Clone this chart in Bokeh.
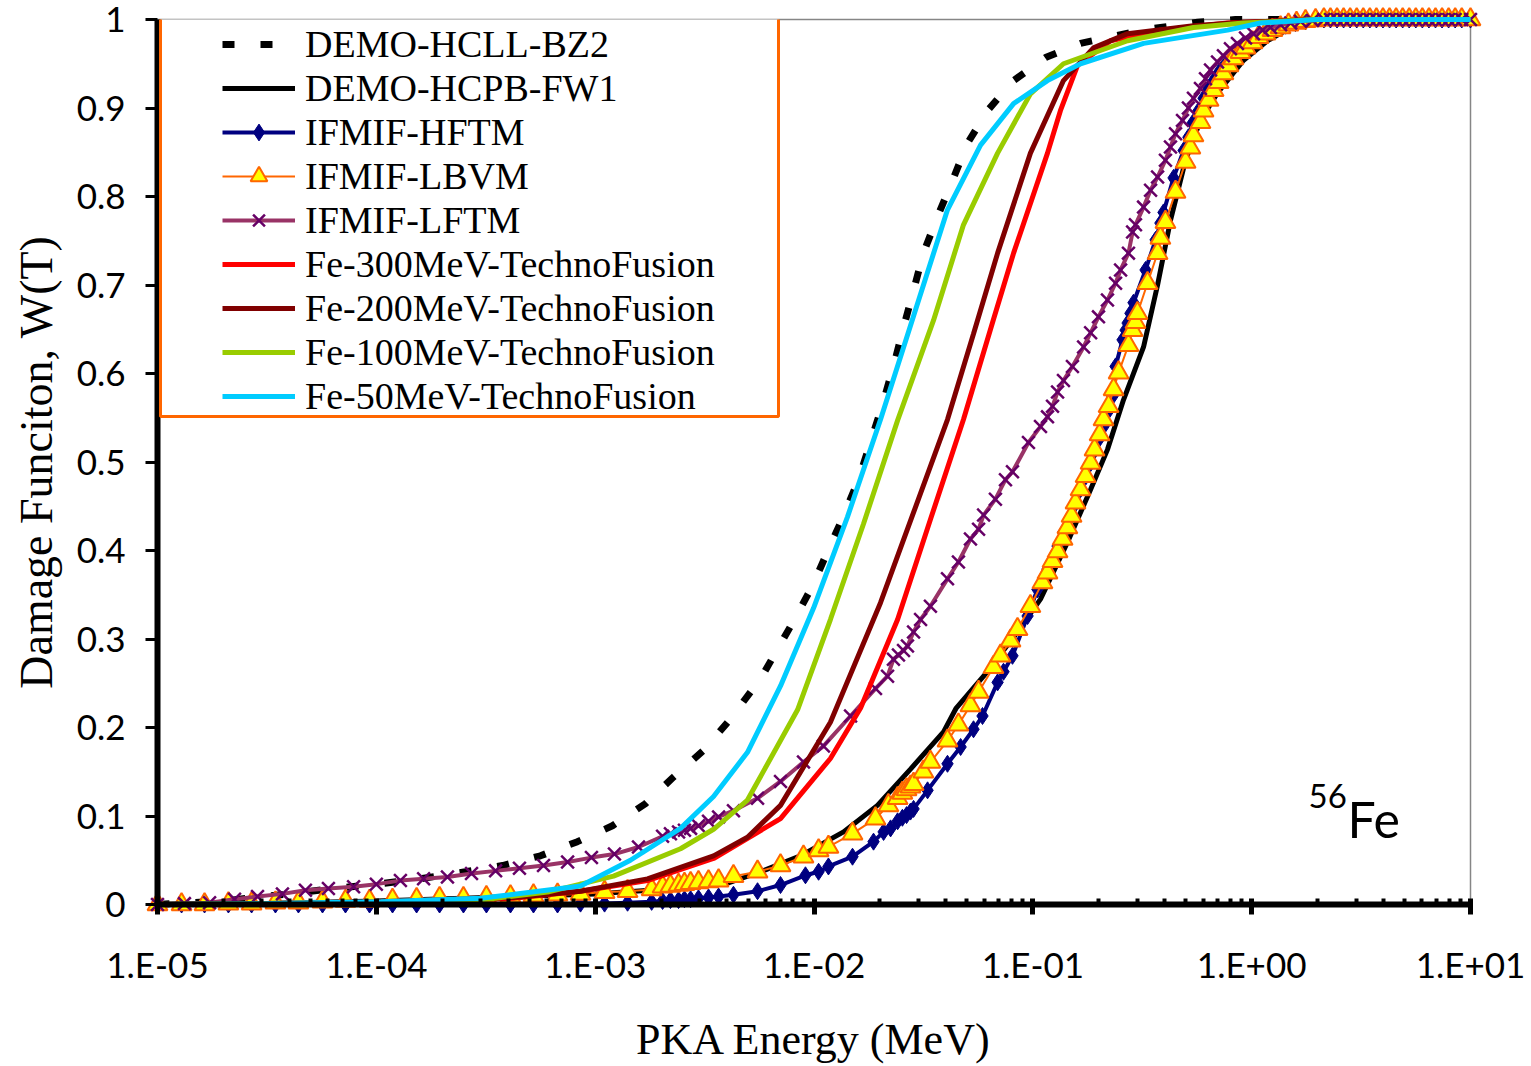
import numpy as np
from bokeh.plotting import figure
from bokeh.models import (Range1d, FixedTicker, CustomJSTickFormatter, Legend,
                          LegendItem, BoxAnnotation, Label, ColumnDataSource)
from bokeh.embed import file_html
from bokeh.resources import INLINE

# ---------------- data (PKA energy given as log10(E / MeV), W = damage function) -------------
series_names = ["DEMO-HCLL-BZ2", "DEMO-HCPB-FW1", "IFMIF-HFTM", "IFMIF-LBVM", "IFMIF-LFTM",
                "Fe-300MeV-TechnoFusion", "Fe-200MeV-TechnoFusion",
                "Fe-100MeV-TechnoFusion", "Fe-50MeV-TechnoFusion"]

hcll_logE = [-5.0, -4.7, -4.4, -4.2, -4.0, -3.8, -3.593, -3.423, -3.250, -3.081, -2.921, -2.770,
             -2.642, -2.505, -2.391, -2.244, -2.094, -2.007, -1.934, -1.865, -1.797, -1.742,
             -1.687, -1.637, -1.591, -1.545, -1.500, -1.436, -1.367, -1.299, -1.207, -1.088,
             -0.942, -0.782, -0.5, -0.247, -0.074, 0.3, 1.0]
hcll_W = [0.0, 0.004, 0.012, 0.018, 0.023, 0.029, 0.037, 0.044, 0.055, 0.071, 0.089, 0.114,
          0.144, 0.174, 0.207, 0.255, 0.320, 0.360, 0.401, 0.439, 0.480, 0.522,
          0.565, 0.608, 0.652, 0.694, 0.736, 0.777, 0.818, 0.860, 0.897, 0.931,
          0.957, 0.973, 0.988, 0.997, 1.0, 1.0, 1.0]

hcpb_logE = [-5.0, -4.5, -4.0, -3.5, -3.0, -2.7, -2.395, -2.244, -2.062, -1.865, -1.710, -1.559,
             -1.408, -1.35, -1.225, -1.070, -0.965, -0.842, -0.736, -0.659, -0.586, -0.494,
             -0.430, -0.371, -0.302, -0.234, -0.156, -0.037, 0.072, 0.223, 0.45, 1.0]
hcpb_W = [0.0, 0.001, 0.004, 0.008, 0.012, 0.017, 0.024, 0.037, 0.055, 0.082, 0.112, 0.153,
          0.195, 0.222, 0.258, 0.308, 0.345, 0.409, 0.469, 0.514, 0.570, 0.630,
          0.700, 0.773, 0.841, 0.886, 0.917, 0.954, 0.976, 0.997, 1.0, 1.0]

hftm_logE = [-5.000, -4.890, -4.785, -4.676, -4.570, -4.461, -4.356, -4.246, -4.141, -4.031,
             -3.926, -3.816, -3.711, -3.602, -3.497, -3.387, -3.282, -3.172, -3.067, -2.957,
             -2.852, -2.742, -2.692, -2.656, -2.619, -2.592, -2.564, -2.528, -2.482, -2.436,
             -2.368, -2.258, -2.153, -2.039, -1.979, -1.934, -1.824, -1.728, -1.682, -1.650,
             -1.618, -1.596, -1.577, -1.559, -1.545, -1.481, -1.390, -1.330, -1.271, -1.230,
             -1.161, -1.134, -1.093, -1.024, -0.979, -0.956, -0.933, -0.910, -0.887, -0.860,
             -0.837, -0.814, -0.791, -0.768, -0.746, -0.723, -0.700, -0.677, -0.659, -0.636,
             -0.622, -0.590, -0.576, -0.567, -0.554, -0.540, -0.485, -0.439, -0.417, -0.403,
             -0.357, -0.311, -0.289, -0.270, -0.243, -0.220, -0.197, -0.174, -0.151, -0.120,
             -0.088, -0.060, -0.028, 0.004, 0.040, 0.077, 0.114, 0.155, 0.200, 0.246]
hftm_W = [0.000, 0.000, 0.000, 0.000, 0.000, 0.000, 0.000, 0.000, 0.000, 0.000,
          0.000, 0.000, 0.000, 0.000, 0.000, 0.000, 0.000, 0.000, 0.001, 0.001,
          0.002, 0.003, 0.004, 0.005, 0.005, 0.006, 0.006, 0.007, 0.008, 0.009,
          0.011, 0.015, 0.022, 0.033, 0.037, 0.043, 0.054, 0.071, 0.082, 0.086,
          0.094, 0.098, 0.101, 0.105, 0.108, 0.129, 0.159, 0.178, 0.198, 0.213,
          0.251, 0.263, 0.281, 0.326, 0.356, 0.365, 0.379, 0.390, 0.405, 0.421,
          0.435, 0.450, 0.466, 0.480, 0.495, 0.511, 0.525, 0.540, 0.556, 0.574,
          0.608, 0.638, 0.649, 0.657, 0.668, 0.680, 0.717, 0.751, 0.770, 0.782,
          0.821, 0.852, 0.867, 0.883, 0.897, 0.911, 0.922, 0.931, 0.940, 0.950,
          0.957, 0.965, 0.971, 0.976, 0.982, 0.986, 0.990, 0.993, 0.996, 0.998]

lbvm_logE = [-5.000, -4.890, -4.785, -4.676, -4.570, -4.461, -4.356, -4.246, -4.141, -4.031,
             -3.926, -3.816, -3.711, -3.602, -3.497, -3.387, -3.282, -3.172, -3.067, -2.957,
             -2.852, -2.742, -2.692, -2.656, -2.619, -2.592, -2.564, -2.528, -2.482, -2.436,
             -2.368, -2.258, -2.153, -2.048, -1.979, -1.934, -1.824, -1.719, -1.660, -1.618,
             -1.596, -1.577, -1.559, -1.545, -1.500, -1.468, -1.390, -1.340, -1.285, -1.248,
             -1.180, -1.148, -1.102, -1.070, -1.011, -0.956, -0.933, -0.910, -0.887, -0.864,
             -0.842, -0.823, -0.805, -0.782, -0.759, -0.736, -0.718, -0.695, -0.677, -0.654,
             -0.631, -0.608, -0.563, -0.544, -0.531, -0.522, -0.476, -0.430, -0.417, -0.394,
             -0.348, -0.302, -0.280, -0.266, -0.234, -0.220, -0.197, -0.174, -0.151, -0.129,
             -0.106, -0.083, -0.051, -0.028, 0.004, 0.031, 0.063, 0.095, 0.132, 0.168,
             0.205, 0.246, 0.292]
lbvm_W = [0.000, 0.000, 0.000, 0.001, 0.001, 0.002, 0.002, 0.003, 0.004, 0.004,
          0.005, 0.006, 0.007, 0.007, 0.008, 0.009, 0.010, 0.011, 0.012, 0.014,
          0.015, 0.017, 0.020, 0.021, 0.022, 0.023, 0.024, 0.025, 0.026, 0.027,
          0.032, 0.037, 0.044, 0.054, 0.061, 0.065, 0.080, 0.097, 0.112, 0.120,
          0.126, 0.130, 0.133, 0.136, 0.150, 0.161, 0.185, 0.203, 0.225, 0.240,
          0.268, 0.281, 0.298, 0.311, 0.337, 0.364, 0.375, 0.388, 0.399, 0.413,
          0.426, 0.439, 0.454, 0.469, 0.484, 0.499, 0.514, 0.531, 0.548, 0.563,
          0.582, 0.601, 0.632, 0.649, 0.658, 0.668, 0.702, 0.736, 0.753, 0.771,
          0.805, 0.839, 0.855, 0.869, 0.884, 0.897, 0.909, 0.920, 0.929, 0.939,
          0.948, 0.956, 0.963, 0.968, 0.974, 0.980, 0.984, 0.988, 0.991, 0.994,
          0.996, 0.998, 0.999]

lftm_logE = [-5.000, -4.877, -4.762, -4.648, -4.543, -4.429, -4.324, -4.219, -4.104, -4.000,
             -3.890, -3.784, -3.675, -3.565, -3.455, -3.346, -3.236, -3.126, -3.017, -2.912,
             -2.802, -2.692, -2.656, -2.619, -2.592, -2.564, -2.528, -2.482, -2.436, -2.368,
             -2.258, -2.153, -2.048, -1.957, -1.833, -1.719, -1.664, -1.637, -1.614, -1.591,
             -1.573, -1.545, -1.513, -1.468, -1.390, -1.340, -1.285, -1.248, -1.225, -1.171,
             -1.125, -1.093, -1.020, -0.965, -0.933, -0.910, -0.887, -0.860, -0.819, -0.768,
             -0.736, -0.700, -0.659, -0.622, -0.599, -0.563, -0.544, -0.531, -0.494, -0.462,
             -0.430, -0.394, -0.371, -0.348, -0.316, -0.289, -0.266, -0.234, -0.211, -0.188,
             -0.156, -0.129, -0.097, -0.065, -0.028, 0.008, 0.050, 0.086, 0.132, 0.178,
             0.223, 0.278]
lftm_W = [0.000, 0.001, 0.002, 0.006, 0.009, 0.012, 0.016, 0.018, 0.020, 0.023,
          0.027, 0.029, 0.031, 0.035, 0.038, 0.041, 0.044, 0.048, 0.053, 0.057,
          0.065, 0.077, 0.080, 0.082, 0.084, 0.086, 0.089, 0.094, 0.099, 0.106,
          0.120, 0.139, 0.161, 0.179, 0.213, 0.244, 0.258, 0.277, 0.282, 0.287,
          0.292, 0.308, 0.322, 0.337, 0.368, 0.387, 0.413, 0.424, 0.440, 0.458,
          0.480, 0.489, 0.522, 0.540, 0.551, 0.563, 0.579, 0.592, 0.608, 0.630,
          0.646, 0.664, 0.683, 0.702, 0.717, 0.736, 0.760, 0.768, 0.788, 0.807,
          0.822, 0.841, 0.856, 0.871, 0.886, 0.900, 0.911, 0.922, 0.933, 0.943,
          0.952, 0.959, 0.967, 0.973, 0.979, 0.984, 0.988, 0.991, 0.994, 0.996,
          0.998, 0.999]

# saturated high-energy part shared by the IFMIF spectra
ifmif_tail_logE = [0.33, 0.36, 0.39, 0.42, 0.45, 0.48, 0.51, 0.54, 0.57, 0.60, 0.63, 0.66,
                   0.69, 0.72, 0.75, 0.78, 0.81, 0.84, 0.87, 0.90, 0.93, 0.96, 1.0]
ifmif_tail_W = [1.0, 1.0, 1.0, 1.0, 1.0, 1.0, 1.0, 1.0, 1.0, 1.0, 1.0, 1.0,
                1.0, 1.0, 1.0, 1.0, 1.0, 1.0, 1.0, 1.0, 1.0, 1.0, 1.0]

fe300_logE = [-5.0, -4.5, -4.0, -3.373, -3.067, -2.761, -2.459, -2.153, -1.925, -1.787, -1.618,
              -1.468, -1.317, -1.180, -1.088, -0.933, -0.874, -0.796, -0.645, -0.417, -0.110,
              0.3, 1.0]
fe300_W = [0.0, 0.001, 0.002, 0.007, 0.015, 0.027, 0.052, 0.097, 0.165, 0.222, 0.322,
           0.435, 0.548, 0.661, 0.736, 0.849, 0.897, 0.948, 0.976, 0.988, 0.996,
           1.0, 1.0]

fe200_logE = [-5.0, -4.5, -4.0, -3.373, -3.067, -2.761, -2.459, -2.304, -2.153, -1.925, -1.696,
              -1.545, -1.390, -1.271, -1.161, -1.011, -0.860, -0.723, -0.567, -0.266, -0.037,
              0.3, 1.0]
fe200_W = [0.0, 0.001, 0.003, 0.008, 0.015, 0.029, 0.055, 0.076, 0.112, 0.206, 0.341,
           0.443, 0.548, 0.645, 0.736, 0.849, 0.931, 0.968, 0.984, 0.993, 0.997,
           1.0, 1.0]

fe100_logE = [-5.0, -4.5, -4.0, -3.524, -3.218, -2.916, -2.610, -2.459, -2.304, -2.075, -1.925,
              -1.774, -1.618, -1.454, -1.317, -1.161, -1.011, -0.860, -0.567, -0.266, -0.037,
              0.3, 1.0]
fe100_W = [0.0, 0.001, 0.002, 0.005, 0.014, 0.032, 0.063, 0.085, 0.118, 0.220, 0.322,
           0.430, 0.547, 0.660, 0.768, 0.849, 0.916, 0.950, 0.976, 0.991, 0.996,
           1.0, 1.0]

fe50_logE = [-5.0, -4.5, -3.98, -3.524, -3.067, -2.839, -2.610, -2.459, -2.304, -2.153, -2.002,
             -1.847, -1.696, -1.545, -1.390, -1.239, -1.088, -0.933, -0.782, -0.494, -0.110,
             0.040, 0.3, 1.0]
fe50_W = [0.0, 0.001, 0.003, 0.007, 0.021, 0.050, 0.086, 0.122, 0.172, 0.247, 0.335,
          0.438, 0.548, 0.665, 0.785, 0.858, 0.905, 0.931, 0.950, 0.973, 0.988,
          0.996, 1.0, 1.0]

x_tick_values = [1e-5, 1e-4, 1e-3, 1e-2, 1e-1, 1e0, 1e1]
x_tick_labels = ["1.E-05", "1.E-04", "1.E-03", "1.E-02", "1.E-01", "1.E+00", "1.E+01"]
y_tick_values = [0.0, 0.1, 0.2, 0.3, 0.4, 0.5, 0.6, 0.7, 0.8, 0.9, 1.0]
y_tick_labels = ["0", "0.1", "0.2", "0.3", "0.4", "0.5", "0.6", "0.7", "0.8", "0.9", "1"]


def src(logE, W):
    return ColumnDataSource(dict(E=np.power(10.0, np.asarray(logE, dtype=float)),
                                 W=np.asarray(W, dtype=float)))


# ---------------- figure -------------
p = figure(width=1531, height=1066, x_axis_type="log",
           x_range=Range1d(1e-5, 1e1), y_range=Range1d(0, 1),
           output_backend="svg", toolbar_location=None,
           min_border_left=157, min_border_right=61, min_border_top=19, min_border_bottom=160,
           background_fill_color="white", border_fill_color="white")
p.xgrid.visible = False
p.ygrid.visible = False
p.outline_line_color = "#868686"
p.outline_line_width = 1.5

# x axis
minor = [m * 10.0 ** k for k in range(-5, 1) for m in range(2, 10)]
p.xaxis.ticker = FixedTicker(ticks=x_tick_values, minor_ticks=minor)
p.xaxis.formatter = CustomJSTickFormatter(args=dict(vals=x_tick_values, labs=x_tick_labels), code="""
    let best = 0, bd = Infinity;
    for (let i = 0; i < vals.length; i++) {
        const d = Math.abs(Math.log10(vals[i]) - Math.log10(tick));
        if (d < bd) { bd = d; best = i; }
    }
    return labs[best];
""")
p.xaxis.axis_line_width = 6
p.xaxis.axis_line_color = "black"
p.xaxis.major_tick_line_width = 5
p.xaxis.major_tick_line_color = "black"
p.xaxis.major_tick_in = 6
p.xaxis.major_tick_out = 10
p.xaxis.minor_tick_line_width = 4
p.xaxis.minor_tick_line_color = "black"
p.xaxis.minor_tick_in = 6
p.xaxis.minor_tick_out = 0
p.xaxis.major_label_text_font = "Lato"
p.xaxis.major_label_text_font_size = "35px"
p.xaxis.major_label_text_color = "black"
p.xaxis.major_label_standoff = 28
p.xaxis.axis_label = "PKA Energy (MeV)"
p.xaxis.axis_label_text_font = "Liberation Serif"
p.xaxis.axis_label_text_font_style = "normal"
p.xaxis.axis_label_text_font_size = "44px"
p.xaxis.axis_label_text_color = "black"
p.xaxis.axis_label_standoff = 27

# y axis
p.yaxis.ticker = FixedTicker(ticks=y_tick_values)
p.yaxis.formatter = CustomJSTickFormatter(args=dict(vals=y_tick_values, labs=y_tick_labels), code="""
    let best = 0, bd = Infinity;
    for (let i = 0; i < vals.length; i++) {
        const d = Math.abs(vals[i] - tick);
        if (d < bd) { bd = d; best = i; }
    }
    return labs[best];
""")
p.yaxis.axis_line_width = 6
p.yaxis.axis_line_color = "black"
p.yaxis.major_tick_line_width = 3
p.yaxis.major_tick_line_color = "black"
p.yaxis.major_tick_in = 0
p.yaxis.major_tick_out = 12
p.yaxis.minor_tick_line_alpha = 0
p.yaxis.major_label_text_font = "Lato"
p.yaxis.major_label_text_font_size = "35px"
p.yaxis.major_label_text_color = "black"
p.yaxis.major_label_standoff = 20
p.yaxis.axis_label = "Damage Funciton, W(T)"
p.yaxis.axis_label_text_font = "Liberation Serif"
p.yaxis.axis_label_text_font_style = "normal"
p.yaxis.axis_label_text_font_size = "46px"
p.yaxis.axis_label_text_color = "black"
p.yaxis.axis_label_standoff = 12

# ---------------- series (drawn over the axes, as in the original) -------------
LV = "guide"
r_hcll = p.line("E", "W", source=src(hcll_logE, hcll_W), line_color="black",
                line_width=7, line_dash="12 26", level=LV)
r_hcpb = p.line("E", "W", source=src(hcpb_logE, hcpb_W), line_color="black", line_width=5, level=LV)

s_hftm = src(hftm_logE + ifmif_tail_logE, hftm_W + ifmif_tail_W)
r_hftm_l = p.line("E", "W", source=s_hftm, line_color="#000080", line_width=4, level=LV)
r_hftm_m = p.scatter("E", "W", source=s_hftm, marker="diamond", size=17,
                     fill_color="#000080", line_color="#000080", line_width=1, level=LV)

s_lbvm = src(lbvm_logE + ifmif_tail_logE, lbvm_W + ifmif_tail_W)
r_lbvm_l = p.line("E", "W", source=s_lbvm, line_color="#FF6600", line_width=2, level=LV)
r_lbvm_m = p.scatter("E", "W", source=s_lbvm, marker="triangle", size=20,
                     fill_color="#FFFF00", line_color="#FF6600", line_width=2, level=LV)

s_lftm = src(lftm_logE + ifmif_tail_logE, lftm_W + ifmif_tail_W)
r_lftm_l = p.line("E", "W", source=s_lftm, line_color="#993366", line_width=4, level=LV)
r_lftm_m = p.scatter("E", "W", source=s_lftm, marker="x", size=18,
                     line_color="#660066", line_width=2.5, level=LV)

r_fe300 = p.line("E", "W", source=src(fe300_logE, fe300_W), line_color="#FF0000", line_width=5, level=LV)
r_fe200 = p.line("E", "W", source=src(fe200_logE, fe200_W), line_color="#800000", line_width=5, level=LV)
r_fe100 = p.line("E", "W", source=src(fe100_logE, fe100_W), line_color="#99CC00", line_width=5, level=LV)
r_fe50 = p.line("E", "W", source=src(fe50_logE, fe50_W), line_color="#00CCFF", line_width=5, level=LV)

renderer_groups = [[r_hcll], [r_hcpb], [r_hftm_l, r_hftm_m], [r_lbvm_l, r_lbvm_m],
                   [r_lftm_l, r_lftm_m], [r_fe300], [r_fe200], [r_fe100], [r_fe50]]

# legend frame (orange box) and legend
box = BoxAnnotation(left=3, right=621, bottom=488, top=887,
                    left_units="screen", right_units="screen",
                    bottom_units="screen", top_units="screen",
                    fill_color="white", fill_alpha=1.0,
                    line_color="#FF6600", line_alpha=1.0, line_width=3)
p.add_layout(box)

legend = Legend(items=[LegendItem(label=n, renderers=g) for n, g in zip(series_names, renderer_groups)],
                location=(58, 479), padding=7, spacing=0, margin=0,
                glyph_width=73, glyph_height=42, label_height=42, label_standoff=10,
                label_text_font="Liberation Serif", label_text_font_size="38px",
                label_text_color="black",
                border_line_alpha=0, background_fill_alpha=0)
p.add_layout(legend)

# 56Fe annotation
p.add_layout(Label(x=1151, y=109, x_units="screen", y_units="screen", text="56",
                   text_font="Lato", text_font_size="33px", text_color="black",
                   text_baseline="alphabetic"))
p.add_layout(Label(x=1190, y=86, x_units="screen", y_units="screen", text="Fe",
                   text_font="Lato", text_font_size="50px", text_color="black",
                   text_baseline="alphabetic"))

open("out.html", "w").write(file_html(p, INLINE))
